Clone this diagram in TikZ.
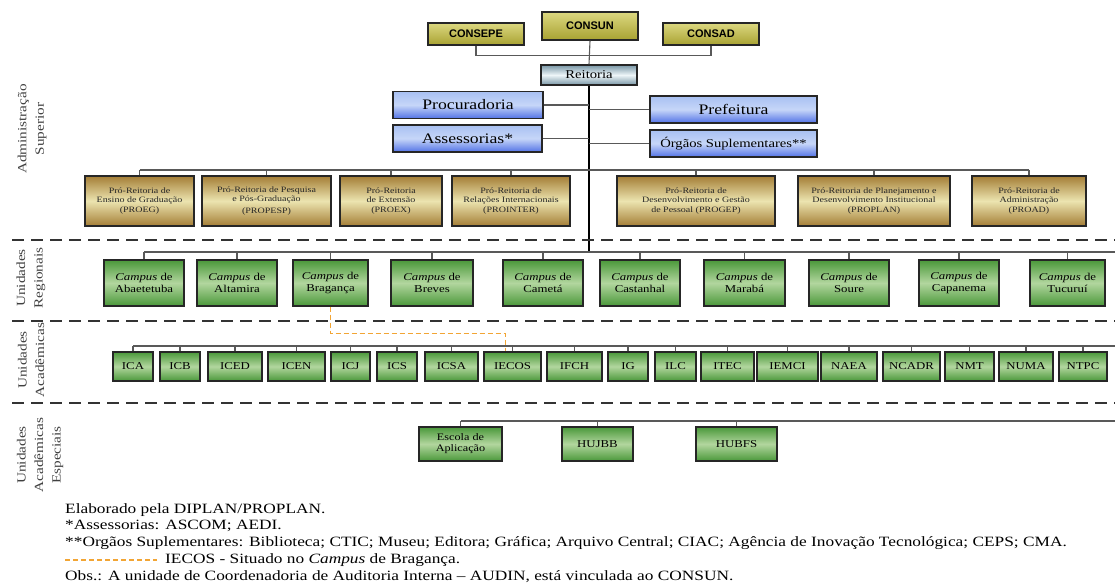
\documentclass[tikz,border=0pt]{standalone}
\usepackage{fontspec}
\setmainfont{Liberation Serif}[FakeStretch=1.22]
\newfontfamily\consfont{Liberation Sans}

\definecolor{olvC}{HTML}{DCD880}
\definecolor{olvE}{HTML}{A8A232}
\definecolor{reiC}{HTML}{EEF6F8}
\definecolor{reiE}{HTML}{7896A6}
\definecolor{azuC}{HTML}{C6D6F8}
\definecolor{azuT}{HTML}{A8C0F2}
\definecolor{azuE}{HTML}{5272E6}
\definecolor{ourC}{HTML}{ECE4B0}
\definecolor{ourE}{HTML}{A47E36}
\definecolor{verC}{HTML}{B2D69E}
\definecolor{verE}{HTML}{4A983A}
\definecolor{laranja}{HTML}{F2A534}

\begin{document}
\begin{tikzpicture}[x=1pt,y=-1pt,
caixa/.style={draw=black!85,line width=1.3pt,inner sep=1pt,align=center},
cons/.style={caixa,top color=olvC,bottom color=olvE,font=\consfont\bfseries\fontsize{11}{12}\selectfont,minimum width=96,minimum height=22},
reit/.style={caixa,top color=reiE,bottom color=reiE,middle color=reiC,font=\fontsize{12}{13}\selectfont,minimum width=96,minimum height=20},
apoio/.style={caixa,top color=azuT,bottom color=azuE,middle color=azuC,font=\fontsize{14.5}{16}\selectfont,minimum height=27},
pro/.style={caixa,top color=ourE,bottom color=ourE,middle color=ourC,font=\fontsize{8.2}{9.2}\selectfont,text=black!85,minimum height=50},
campus/.style={caixa,top color=verE,bottom color=verE,middle color=verC,font=\fontsize{10.5}{12.5}\selectfont,minimum height=46},
inst/.style={caixa,top color=verE,bottom color=verE,middle color=verC,font=\fontsize{10.5}{12}\selectfont,minimum height=29},
lado/.style={rotate=90,align=center,font=\fontsize{12.5}{17.5}\selectfont,text=black!75},
link/.style={draw=black!65,line width=1.1pt},
tronco/.style={draw=black,line width=2.2pt},
sep/.style={draw=black!80,line width=2.6pt,dash pattern=on 12pt off 7pt},
iecos/.style={draw=laranja,line width=1.4pt,dash pattern=on 5pt off 3pt},
obs/.style={anchor=west,font=\fontsize{14.2}{16}\selectfont,inner sep=0pt}]
	\useasboundingbox (0,0) rectangle (1115,583);
	\coordinate (borda) at (1115,0);
	\coordinate (busp) at (0,170);
	\coordinate (busc) at (0,252);
	\coordinate (busi) at (0,346);
	\coordinate (buse) at (0,421);

	% conselhos e reitoria
	\node[cons] at (476,34) (consepe) {CONSEPE};
	\node[cons,minimum height=28] at (590,26) (consun) {CONSUN};
	\node[cons] at (711,34) (consad) {CONSAD};
	\node[reit] at (589,75) (reitoria) {Reitoria};
	\draw[link] (consepe.south) -- ++(0,10) -| (consad.south);
	\draw[link] (consun.south) -- (reitoria.north);

	\node[apoio,minimum width=150] at (468,105) (procuradoria) {Procuradoria};
	\node[apoio,minimum width=149] at (467.5,138.5) (assessorias) {Assessorias*};
	\node[apoio,minimum width=167] at (733.5,109.5) (prefeitura) {Prefeitura};
	\node[apoio,minimum width=167,font=\fontsize{12}{13}\selectfont] at (733.5,143.5) (orgaos) {Órgãos Suplementares**};

	\draw[tronco] (reitoria.south) -- (reitoria.south |- busc);
	\draw[link] (procuradoria.east) -- (procuradoria.east -| reitoria.south);
	\draw[link] (assessorias.east) -- (assessorias.east -| reitoria.south);
	\draw[link] (prefeitura.west) -- (prefeitura.west -| reitoria.south);
	\draw[link] (orgaos.west) -- (orgaos.west -| reitoria.south);

	% pro-reitorias
	\node[pro,minimum width=109] at (139.5,201) (proeg) {Pró-Reitoria de\\Ensino de Graduação\\(PROEG)};
	\node[pro,minimum width=129] at (266.5,201) (propesp) {Pró-Reitoria de Pesquisa\\e Pós-Graduação\\[2pt](PROPESP)};
	\node[pro,minimum width=102] at (391,201) (proex) {Pró-Reitoria\\de Extensão\\(PROEX)};
	\node[pro,minimum width=118] at (511,201) (prointer) {Pró-Reitoria de\\Relações Internacionais\\(PROINTER)};
	\node[pro,minimum width=158] at (696,201) (progep) {Pró-Reitoria de\\Desenvolvimento e Gestão\\de Pessoal (PROGEP)};
	\node[pro,minimum width=152] at (874,201) (proplan) {Pró-Reitoria de Planejamento e\\Desenvolvimento Institucional\\(PROPLAN)};
	\node[pro,minimum width=114] at (1029,201) (proad) {Pró-Reitoria de\\Administração\\(PROAD)};
	\draw[link] (proeg.north |- busp) -- (proad.north |- busp);
	\foreach \n in {proeg,propesp,proex,prointer,progep,proplan,proad} {
		\draw[link] (\n.north) -- (\n.north |- busp);
	}

	% campi
	\foreach \n/\x/\w/\t in {abaetetuba/144/80/Abaetetuba,altamira/237/80/Altamira,braganca/330.5/75/Bragança,
		breves/432/82/Breves,cameta/543/80/Cametá,castanhal/640/80/Castanhal,maraba/744.5/81/Marabá,
		soure/849/80/Soure,capanema/959/80/Capanema,tucurui/1067.5/75/Tucuruí} {
		\node[campus,minimum width=\w] at (\x,283) (\n) {\textit{Campus} de\\\t};
		\draw[link] (\n.north) -- (\n.north |- busc);
	}
	\draw[link] (abaetetuba.north |- busc) -- (borda |- busc);

	% unidades academicas
	\foreach \n/\x/\w in {ICA/133/40,ICB/180/40,ICED/235/54,ICEN/296.5/57,ICJ/350.5/39,ICS/397/40,
		ICSA/451.5/53,IECOS/512.5/57,IFCH/574.5/55,IG/628/40,ILC/675.5/41,ITEC/727.5/53,IEMCI/787.5/61,
		NAEA/849/56,NCADR/911.5/57,NMT/969.5/49,NUMA/1026/54,NTPC/1083/48} {
		\node[inst,minimum width=\w] at (\x,366.5) (\n) {\n};
		\draw[link] (\n.north) -- (\n.north |- busi);
	}
	\draw[link] (ICA.north |- busi) -- (borda |- busi);
	\draw[iecos] (braganca.south) -- ++(0,27) -| ([xshift=-7pt]IECOS.north);

	% unidades especiais
	\node[inst,minimum width=83,minimum height=34,font=\fontsize{10}{11}\selectfont] at (460.5,444) (escola) {Escola de\\Aplicação};
	\node[inst,minimum width=71,minimum height=34] at (597.5,444) (hujbb) {HUJBB};
	\node[inst,minimum width=81,minimum height=34] at (736.5,444) (hubfs) {HUBFS};
	\foreach \n in {escola,hujbb,hubfs} {
		\draw[link] (\n.north) -- (\n.north |- buse);
	}
	\draw[link] (escola.north |- buse) -- (borda |- buse);

	% faixas
	\foreach \y in {240,321,403} {
		\draw[sep] (12,\y) -- (1115,\y);
	}
	\node[lado] at (32,129) (ladoA) {Administração\\Superior};
	\node[lado] at (31,278) (ladoR) {Unidades\\Regionais};
	\node[lado] at (31,360) (ladoU) {Unidades\\Acadêmicas};
	\node[lado] at (40,455) (ladoE) {Unidades\\Acadêmicas\\Especiais};

	% notas
	\node[obs] at (65,510) (n1) {Elaborado pela DIPLAN/PROPLAN.};
	\node[obs] at (65,526) (n2) {*Assessorias: ASCOM; AEDI.};
	\node[obs] at (65,543) (n3) {**Orgãos Suplementares: Biblioteca; CTIC; Museu; Editora; Gráfica; Arquivo Central; CIAC; Agência de Inovação Tecnológica; CEPS; CMA.};
	\draw[iecos] (65,560) -- (157,560);
	\node[obs] at (165,560) (n4) {IECOS - Situado no \textit{Campus} de Bragança.};
	\node[obs] at (65,577) (n5) {Obs.: A unidade de Coordenadoria de Auditoria Interna – AUDIN, está vinculada ao CONSUN.};
\end{tikzpicture}
\end{document}
